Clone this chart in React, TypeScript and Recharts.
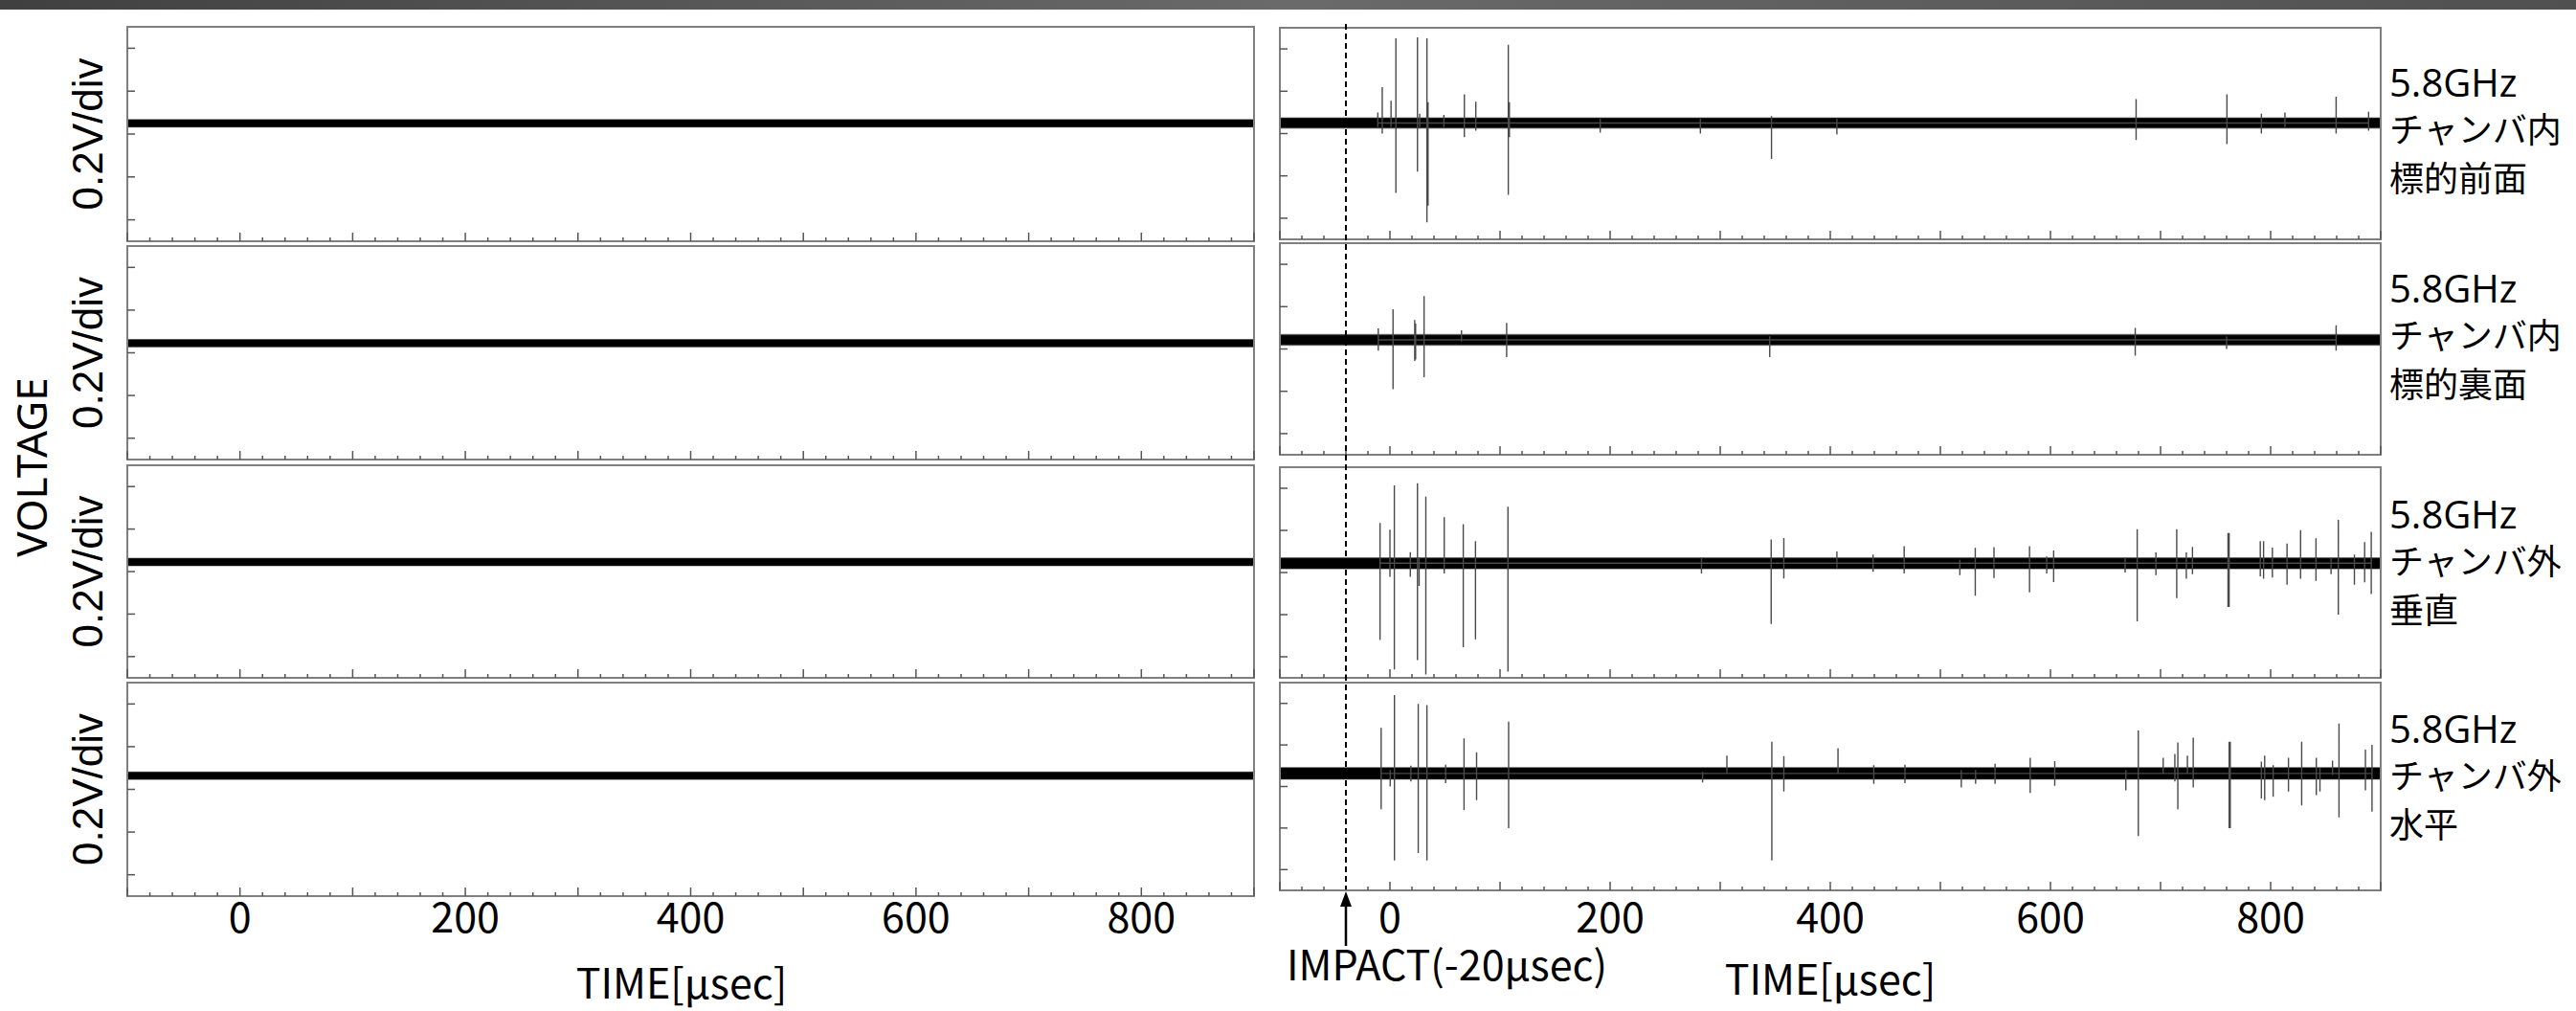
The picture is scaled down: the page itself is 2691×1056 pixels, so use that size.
import React from 'react';
import { ComposedChart, Area, Line, Scatter, XAxis, YAxis, ReferenceArea } from 'recharts';

// ---------- data ----------
const TIME_MIN = -100;
const TIME_MAX = 900;
const V_MIN = -0.5;
const V_MAX = 0.5;
const X_MINOR_STEP = 20;
const X_LABELS = [0, 200, 400, 600, 800];
const Y_TICKS = [-0.4, -0.2, 0, 0.2, 0.4];
const IMPACT_TIME = -40;

// baseline (centre of noise band), rms half-width and peak half-width of noise band, volts
const LEFT_BASE = [0.05, 0.045, 0.045, 0.064];
const LEFT_NOISE = [0.015, 0.015, 0.015, 0.015];
const LEFT_PEAK = [0.02, 0.02, 0.02, 0.02];
const RIGHT_BASE = [0.05, 0.043, 0.044, 0.063];
const RIGHT_NOISE = [0.021, 0.022, 0.023, 0.025];
const RIGHT_PEAK = [0.027, 0.028, 0.029, 0.031];

// spikes: [time µs, max V, min V]
const SPIKES_FRONT = [
  [-11, 0.1, 0.03], [-7, 0.22, 0.0], [1, 0.155, 0.03], [5.4, 0.45, -0.28], [25, 0.455, -0.18],
  [27, 0.094, 0.03], [33.6, 0.45, -0.42], [34.6, 0.148, -0.34], [49, 0.088, 0.03], [67.6, 0.186, -0.017],
  [78, 0.15, 0.014], [107.5, 0.42, -0.29], [108.5, 0.148, -0.017], [191, 0.07, 0.005], [282, 0.07, 0.0],
  [346.6, 0.083, -0.12], [406, 0.07, -0.005], [677.8, 0.163, -0.03], [760.3, 0.186, -0.05],
  [791.6, 0.094, 0.0], [813, 0.1, 0.03], [859.5, 0.174, 0.0], [889, 0.103, 0.014],
];
const SPIKES_BACK = [
  [-10.6, 0.097, -0.008], [2.8, 0.188, -0.19], [22.5, 0.137, -0.057], [23.3, 0.12, -0.05],
  [31, 0.25, -0.134], [65, 0.088, 0.035], [106, 0.123, -0.038], [345, 0.06, -0.038],
  [677, 0.1, -0.032], [760, 0.06, 0.0], [859.5, 0.112, -0.008],
];
const SPIKES_VERT = [
  [-9, 0.235, -0.32], [0, 0.203, -0.02], [4, 0.414, -0.46], [18.5, 0.097, -0.02], [25, 0.424, -0.416],
  [26.5, 0.07, -0.064], [32.6, 0.36, -0.484], [49.3, 0.263, -0.005], [66.6, 0.23, -0.354],
  [77.7, 0.149, -0.317], [107.2, 0.312, -0.471], [283, 0.07, -0.005], [346.3, 0.157, -0.244],
  [357.8, 0.164, -0.028], [406, 0.1, 0.02], [438.9, 0.085, 0.003], [467.1, 0.125, -0.005],
  [517.7, 0.06, -0.013], [531.7, 0.117, -0.11], [548.7, 0.12, -0.026], [581, 0.125, -0.094],
  [596.6, 0.076, -0.005], [602.9, 0.104, -0.045], [667.8, 0.07, 0.0], [678.8, 0.206, -0.232],
  [695.8, 0.095, -0.013], [714.7, 0.206, -0.122], [723.4, 0.096, -0.029], [729, 0.122, -0.008],
  [761.3, 0.187, -0.164], [762.3, 0.187, -0.164], [790.6, 0.149, -0.018], [793.6, 0.149, -0.029],
  [801.6, 0.118, -0.024], [814.9, 0.138, -0.058], [827.2, 0.201, -0.029], [841.2, 0.162, -0.04],
  [854.9, 0.07, -0.008], [861.5, 0.25, -0.2], [876.1, 0.085, -0.058], [885.4, 0.144, -0.047],
  [891.4, 0.193, -0.102],
];
const SPIKES_HORIZ = [
  [-8, 0.282, -0.11], [0.2, 0.08, 0.0], [4.1, 0.44, -0.356], [19, 0.1, 0.024], [25.7, 0.397, -0.32],
  [33.6, 0.392, -0.356], [50.6, 0.105, 0.016], [67.3, 0.232, -0.113], [78.7, 0.165, -0.066],
  [107.8, 0.312, -0.2], [284, 0.07, 0.02], [306.1, 0.149, 0.086], [346.9, 0.215, -0.356],
  [357.8, 0.146, -0.024], [407, 0.184, 0.07], [439.5, 0.102, 0.013], [467.8, 0.105, 0.016],
  [519, 0.08, -0.005], [532, 0.08, 0.013], [549.7, 0.11, 0.013], [581.6, 0.138, -0.031],
  [603.9, 0.122, 0.003], [668.5, 0.08, -0.019], [679.8, 0.27, -0.238], [702.4, 0.138, 0.063],
  [713, 0.157, 0.024], [715.7, 0.212, -0.11], [724.4, 0.149, 0.063], [729.7, 0.235, -0.005],
  [762.3, 0.215, -0.2], [763.3, 0.215, -0.2], [791.6, 0.12, -0.058], [794.6, 0.149, -0.066],
  [802.3, 0.102, -0.05], [816.2, 0.138, -0.024], [828.2, 0.215, -0.091], [841.5, 0.138, -0.042],
  [844.8, 0.09, -0.024], [856.2, 0.125, 0.055], [862.1, 0.303, -0.149], [886.1, 0.177, -0.019],
  [892.1, 0.2, -0.121],
];
const RIGHT_SPIKES = [SPIKES_FRONT, SPIKES_BACK, SPIKES_VERT, SPIKES_HORIZ];

const LABEL_FREQ = ['5.8GHz', '5.8GHz', '5.8GHz', '5.8GHz'];
const LABEL_LOC = ['チャンバ内', 'チャンバ内', 'チャンバ外', 'チャンバ外'];
const LABEL_SUB = ['標的前面', '標的裏面', '垂直', '水平'];
const Y_UNIT_LABEL = '0.2V/div';
const Y_TITLE = 'VOLTAGE';
const X_TITLE = 'TIME[µsec]';
const IMPACT_LABEL = 'IMPACT(-20µsec)';

// ---------- layout ----------
const LEFT_X = 133;
const LEFT_W = 1177;
const RIGHT_X = 1337;
const RIGHT_W = 1150;
const LEFT_ROWS = [[28, 224], [257, 223], [486, 222], [713, 223]];
const RIGHT_ROWS = [[29, 221], [254, 221], [488, 220], [713, 217]];
const LABEL_BASELINES = [[101, 149, 200], [316, 364, 415], [552, 600, 651], [776, 824, 875]];

const X_TICKS: number[] = [];
for (let v = TIME_MIN; v <= TIME_MAX; v += X_MINOR_STEP) X_TICKS.push(v);

const LATIN = '"Noto Sans CJK JP", "Noto Sans", sans-serif';

const XTick = (props: any) => {
  const { x, y, payload, showLabels, labelDy } = props;
  const v = payload.value;
  const major = Math.abs(v % 100) < 1e-9;
  return (
    <g>
      <line x1={x} x2={x} y1={y} y2={y - (major ? 9 : 4)} stroke="#555" strokeWidth={1.5} />
      {showLabels && X_LABELS.includes(v) ? (
        <text x={x} y={y + labelDy} textAnchor="middle" fontFamily={LATIN} fontSize={43} fill="#000">
          {v}
        </text>
      ) : null}
    </g>
  );
};

const YTick = (props: any) => {
  const { x, y } = props;
  return <line x1={x} x2={x + 8} y1={y} y2={y} stroke="#555" strokeWidth={1.5} />;
};

function Panel(props: any) {
  const { x, top, w, h, base, noise, peak, spikes, showLabels, labelDy } = props;
  const band = [
    { t: TIME_MIN, range: [base - noise, base + noise], peak: [base - peak, base + peak] },
    { t: TIME_MAX, range: [base - noise, base + noise], peak: [base - peak, base + peak] },
  ];
  const spikeData = (spikes || []).flatMap((s: number[]) => [
    { t: s[0], v: base },
    { t: s[0], v: s[1] },
    { t: s[0], v: s[2] },
    { t: s[0], v: base },
  ]);
  const extra = showLabels ? 60 : 0;
  return (
    <div style={{ position: 'absolute', left: x - 2, top: top - 2 }}>
      <ComposedChart width={w + 4} height={h + 4 + extra} margin={{ top: 2, right: 2, bottom: 1 + extra, left: 1 }}>
        <XAxis
          type="number"
          dataKey="t"
          domain={[TIME_MIN, TIME_MAX]}
          ticks={X_TICKS}
          interval={0}
          height={1}
          tickSize={0}
          tickMargin={0}
          axisLine={false}
          tickLine={false}
          allowDataOverflow
          tick={(p: any) => <XTick {...p} showLabels={showLabels} labelDy={labelDy} />}
        />
        <YAxis
          type="number"
          domain={[V_MIN, V_MAX]}
          ticks={Y_TICKS}
          interval={0}
          width={1}
          tickSize={0}
          tickMargin={0}
          axisLine={false}
          tickLine={false}
          allowDataOverflow
          tick={(p: any) => <YTick {...p} />}
        />
        <Area
          data={band}
          dataKey="peak"
          type="linear"
          stroke="none"
          fill="#3a3a3a"
          fillOpacity={0.55}
          dot={false}
          activeDot={false}
          isAnimationActive={false}
        />
        <Area
          data={band}
          dataKey="range"
          type="linear"
          stroke="#000"
          strokeWidth={1}
          fill="#000"
          fillOpacity={1}
          dot={false}
          activeDot={false}
          isAnimationActive={false}
        />
        {spikes ? (
          <Line
            data={spikeData}
            dataKey="v"
            type="linear"
            stroke="#4a4a4a"
            strokeWidth={1.4}
            dot={false}
            activeDot={false}
            isAnimationActive={false}
          />
        ) : null}
        <ReferenceArea
          x1={TIME_MIN}
          x2={TIME_MAX}
          y1={V_MIN}
          y2={V_MAX}
          fill="none"
          stroke="#7f7f7f"
          strokeWidth={2}
          ifOverflow="visible"
        />
      </ComposedChart>
    </div>
  );
}

const ArrowShape = (props: any) => {
  const { cx, cy } = props;
  if (typeof cx !== 'number' || typeof cy !== 'number') return <g />;
  return (
    <g>
      <line x1={cx} x2={cx} y1={cy + 12} y2={cy + 59} stroke="#000" strokeWidth={2.5} />
      <polygon points={`${cx},${cy + 2} ${cx - 6},${cy + 18} ${cx + 6},${cy + 18}`} fill="#000" />
    </g>
  );
};

export default function App() {
  const impactLine = [
    { t: IMPACT_TIME, v: 1 },
    { t: IMPACT_TIME, v: 0 },
  ];
  const impactPoint = [{ t: IMPACT_TIME, v: 0 }];
  return (
    <div style={{ position: 'absolute', left: 0, top: 0, width: 2691, height: 1056, background: '#fff', overflow: 'hidden' }}>
      <div
        style={{
          position: 'absolute',
          left: 0,
          top: 0,
          width: 2691,
          height: 10,
          background: 'linear-gradient(to right, #404040, #6a6a6a 50%, #505050)',
        }}
      />
      {LEFT_ROWS.map(([top, h], i) => (
        <Panel
          key={'l' + i}
          x={LEFT_X}
          top={top}
          w={LEFT_W}
          h={h}
          base={LEFT_BASE[i]}
          noise={LEFT_NOISE[i]}
          peak={LEFT_PEAK[i]}
          showLabels={i === 3}
          labelDy={38}
        />
      ))}
      {RIGHT_ROWS.map(([top, h], i) => (
        <Panel
          key={'r' + i}
          x={RIGHT_X}
          top={top}
          w={RIGHT_W}
          h={h}
          base={RIGHT_BASE[i]}
          noise={RIGHT_NOISE[i]}
          peak={RIGHT_PEAK[i]}
          spikes={RIGHT_SPIKES[i]}
          showLabels={i === 3}
          labelDy={44}
        />
      ))}
      <div style={{ position: 'absolute', left: RIGHT_X - 2, top: 25 }}>
        <ComposedChart width={RIGHT_W + 4} height={963} margin={{ top: 0, right: 2, bottom: 59, left: 2 }}>
          <XAxis type="number" dataKey="t" domain={[TIME_MIN, TIME_MAX]} hide />
          <YAxis type="number" dataKey="v" domain={[0, 1]} hide />
          <Line
            data={impactLine}
            dataKey="v"
            type="linear"
            stroke="#000"
            strokeWidth={2}
            strokeDasharray="6 4"
            dot={false}
            activeDot={false}
            isAnimationActive={false}
          />
          <Scatter data={impactPoint} dataKey="v" shape={ArrowShape} isAnimationActive={false} />
        </ComposedChart>
      </div>
      <svg width={2691} height={1056} style={{ position: 'absolute', left: 0, top: 0, pointerEvents: 'none' }}>
        <text transform="translate(49,488) rotate(-90)" textAnchor="middle" fontFamily='"Noto Sans", sans-serif' fontSize={44} fill="#000">
          {Y_TITLE}
        </text>
        {LEFT_ROWS.map(([top, h], i) => (
          <text
            key={'u' + i}
            transform={`translate(107,${top + h / 2}) rotate(-90)`}
            textAnchor="middle"
            fontFamily='"Liberation Sans", Arial, sans-serif'
            fontSize={44}
            fill="#000"
          >
            {Y_UNIT_LABEL}
          </text>
        ))}
        <text x={712} y={1043} textAnchor="middle" fontFamily={LATIN} fontSize={43} fill="#000">
          {X_TITLE}
        </text>
        <text x={1912} y={1039} textAnchor="middle" fontFamily={LATIN} fontSize={43} fill="#000">
          {X_TITLE}
        </text>
        <text x={1344} y={1024} textAnchor="start" fontFamily={LATIN} fontSize={43} fill="#000">
          {IMPACT_LABEL}
        </text>
        {LABEL_BASELINES.map((b, i) => (
          <g key={'lab' + i}>
            <text x={2496} y={b[0]} fontFamily='"Open Sans", sans-serif' fontSize={40} fill="#000">
              {LABEL_FREQ[i]}
            </text>
            <text x={2496} y={b[1]} fontFamily='"Noto Sans CJK JP", sans-serif' fontSize={36} fill="#000">
              {LABEL_LOC[i]}
            </text>
            <text x={2496} y={b[2]} fontFamily='"Noto Sans CJK JP", sans-serif' fontSize={36} fill="#000">
              {LABEL_SUB[i]}
            </text>
          </g>
        ))}
      </svg>
    </div>
  );
}
